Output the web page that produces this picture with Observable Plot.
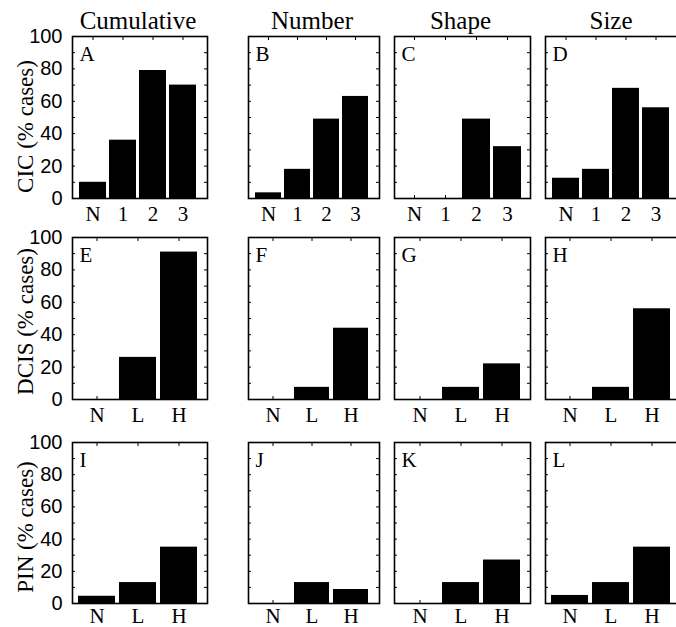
<!DOCTYPE html>
<html><head><meta charset="utf-8">
<script src="https://cdn.jsdelivr.net/npm/d3@7"></script>
<script src="https://cdn.jsdelivr.net/npm/@observablehq/plot@0.6"></script>
<style>
html,body{margin:0;padding:0;background:#fff;}
#fig{position:relative;width:676px;height:627px;overflow:hidden;background:#fff;}
#fig svg{position:absolute;max-width:none;}
</style></head><body><div id="fig"></div>
<script>
// ---- data ----
const catsCount = ["N", "1", "2", "3"];
const catsGrade = ["N", "L", "H"];
const columns = ["Cumulative", "Number", "Shape", "Size"];
const rowNames = ["CIC", "DCIS", "PIN"];
const panelLetters = ["A","B","C","D","E","F","G","H","I","J","K","L"];
const yTickLabels = [0, 20, 40, 60, 80, 100];
const yMinorTicks = [0, 10, 20, 30, 40, 50, 60, 70, 80, 90, 100];

const cicCumulative = [10, 36, 79, 70];
const cicNumber     = [3.5, 18, 49, 63];
const cicShape      = [0, 0, 49, 32];
const cicSize       = [12.5, 18, 68, 56];

const dcisCumulative = [0, 26, 91];
const dcisNumber     = [0, 7.5, 44];
const dcisShape      = [0, 7.5, 22];
const dcisSize       = [0, 7.5, 56];

const pinCumulative = [4.5, 13, 35];
const pinNumber     = [0, 13, 8.7];
const pinShape      = [0, 13, 27];
const pinSize       = [5, 13, 35];

const rowSeries = [
  [cicCumulative, cicNumber, cicShape, cicSize],
  [dcisCumulative, dcisNumber, dcisShape, dcisSize],
  [pinCumulative, pinNumber, pinShape, pinSize]
];
const rowCats = [catsCount, catsGrade, catsGrade];

// ---- layout ----
const frameLeft = [72, 248, 394, 545];
const frameWidth = [135, 131, 136, 135];
const frameTop = [36, 237, 442];
const frameHeight = [162, 162, 161];
const yTitleShift = [9, 3, 4];
const labelDy = [22, 22, 19.5];

const serif = "Liberation Serif";
const sans = "Liberation Sans";
const fig = document.getElementById("fig");

for (let r = 0; r < 3; r++) {
  for (let c = 0; c < 4; c++) {
    const cats = rowCats[r];
    const vals = rowSeries[r][c];
    const data = cats.map((cat, i) => ({cat, value: vals[i]}));
    const fw = frameWidth[c], fh = frameHeight[r];
    const mL = c === 0 ? 72 : 6, mR = 6;
    const mT = r === 0 ? 36 : 8, mB = 30;
    const marks = [
      Plot.barY(data, {x: "cat", y: "value", fill: "black"}),
      Plot.tickY(yMinorTicks, {y: d => d, insetRight: fw - 3, stroke: "black", strokeWidth: 1}),
      Plot.tickY(yMinorTicks, {y: d => d, insetLeft: fw - 3, stroke: "black", strokeWidth: 1}),
      Plot.tickX(cats, {x: d => d, insetBottom: fh - 4, stroke: "black", strokeWidth: 1}),
      Plot.tickX(cats, {x: d => d, insetTop: fh - 3, stroke: "black", strokeWidth: 1}),
      Plot.frame({stroke: "black", strokeWidth: 1.6}),
      Plot.text(cats, {x: d => d, text: d => d, frameAnchor: "bottom", lineAnchor: "bottom", dy: labelDy[r],
        fontFamily: serif, fontSize: 21, fill: "black"}),
      Plot.text([panelLetters[r * 4 + c]], {text: d => d, frameAnchor: "top-left", lineAnchor: "top",
        textAnchor: "start", dx: 7, dy: 10, fontFamily: serif, fontSize: 21, fill: "black"})
    ];
    if (c === 0) {
      marks.push(Plot.text(yTickLabels, {y: d => d, text: d => String(d), frameAnchor: "left",
        textAnchor: "end", dx: -10, fontFamily: sans, fontSize: 20, fill: "black"}));
      marks.push(Plot.text([rowNames[r] + " (% cases)"], {text: d => d, frameAnchor: "left",
        textAnchor: "middle", lineAnchor: "middle",
        rotate: -90, dx: -47, dy: yTitleShift[r], fontFamily: serif, fontSize: 23, fill: "black"}));
    }
    if (r === 0) {
      marks.push(Plot.text([columns[c]], {text: d => d, frameAnchor: "top", lineAnchor: "bottom",
        textAnchor: "middle", dy: -8, dx: -2, fontFamily: serif, fontSize: 25, fill: "black"}));
    }
    const svg = Plot.plot({
      width: fw + mL + mR,
      height: fh + mT + mB,
      marginLeft: mL, marginRight: mR, marginTop: mT, marginBottom: mB,
      style: {background: "transparent", overflow: "visible", fontFamily: "Liberation Serif"},
      x: {type: "band", domain: cats, paddingInner: 0.1, paddingOuter: 0.05, insetLeft: 4, insetRight: 8, axis: null},
      y: {domain: [0, 100], axis: null},
      marks
    });
    svg.style.left = (frameLeft[c] - mL) + "px";
    svg.style.top = (frameTop[r] - mT) + "px";
    fig.appendChild(svg);
  }
}
</script></body></html>
